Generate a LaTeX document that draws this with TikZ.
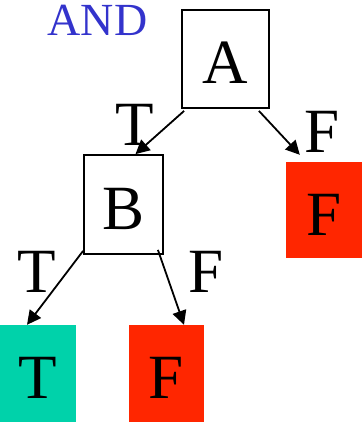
\documentclass[tikz,border=0pt]{standalone}
\usepackage{fontspec}
\setmainfont{Liberation Serif}
\usetikzlibrary{arrows.meta}
\definecolor{andblue}{RGB}{51,51,204}
\definecolor{leafred}{RGB}{255,38,0}
\definecolor{leafteal}{RGB}{0,210,170}
\tikzset{
  big/.style={font=\fontsize{63}{63}\selectfont},
  box/.style={big, draw=black, line width=1.8pt, inner sep=0pt, text height=50pt, text depth=0pt},
  leaf/.style={big, inner sep=0pt, text height=50pt, text depth=0pt},
  lbl/.style={big, anchor=base, inner sep=0pt},
  arr/.style={line width=1.8pt, -{Triangle[length=14pt,width=14pt]}}
}
\begin{document}
\begin{tikzpicture}[x=1pt,y=-1pt]
\useasboundingbox (0,0) rectangle (362,422);
\node[box, minimum width=87pt, minimum height=98pt] (A) at (225.5,59) {A};
\node[box, minimum width=79pt, minimum height=99pt] (B) at (123.5,204.5) {B};
\node[leaf, fill=leafred, minimum width=76pt, minimum height=96pt] (Fr) at (324,210) {F};
\node[leaf, fill=leafteal, minimum width=76pt, minimum height=97pt] (T) at (38,373.5) {T};
\node[leaf, fill=leafred, minimum width=75pt, minimum height=97pt] (Fb) at (166.5,373.5) {F};
\node[font=\fontsize{46}{46}\selectfont, text=andblue, anchor=base, inner sep=0pt] (and) at (97.5,36) {AND};
\node[lbl] (lAT) at (135,146) {T};
\node[lbl] (lAF) at (322,153) {F};
\node[lbl] (lBT) at (37,292) {T};
\node[lbl] (lBF) at (206,292) {F};
\draw[arr] ([xshift=3pt,yshift=-2pt]A.south west) -- ([xshift=12pt]B.north);
\draw[arr] ([xshift=-11pt,yshift=-2pt]A.south east) -- ([xshift=14pt,yshift=7pt]Fr.north west);
\draw[arr] ([yshift=4pt]B.south west) -- ([xshift=-11pt]T.north);
\draw[arr] ([xshift=-6pt,yshift=5pt]B.south east) -- ([xshift=17.5pt]Fb.north);
\end{tikzpicture}
\end{document}
